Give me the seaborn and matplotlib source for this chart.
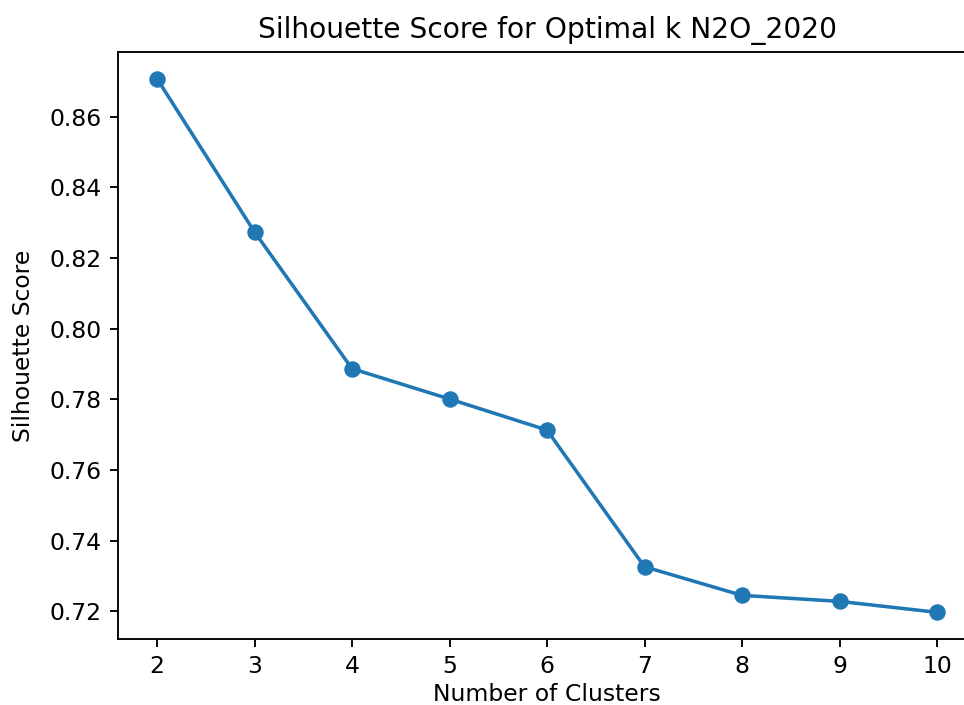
import pandas as pd
import matplotlib.pyplot as plt
import seaborn as sns

# Silhouette scores
k_values = [2, 3, 4, 5, 6, 7, 8, 9, 10]
scores = [0.8708, 0.8274, 0.7887, 0.7801, 0.7713, 0.7326, 0.7245, 0.7228, 0.7197]

df = pd.DataFrame({'k': k_values, 'score': scores})

sns.set_style("ticks", {'text.color': 'black', 'axes.labelcolor': 'black',
                        'xtick.color': 'black', 'ytick.color': 'black'})
plt.rcParams['font.family'] = ['DejaVu Sans']

sc = 1.69  # the reference is a scaled-up matplotlib default figure

fig = plt.figure(figsize=(9.64, 7.05), dpi=100)
ax = fig.add_axes([118 / 964, 66 / 705, 858 / 964, 587 / 705])

sns.lineplot(data=df, x='k', y='score', marker='o', color='#1f77b4',
             linewidth=1.5 * sc, markersize=6 * sc, markeredgecolor='#1f77b4',
             markeredgewidth=1 * sc, ax=ax)

ax.set_title('Silhouette Score for Optimal k N2O_2020', fontsize=12 * sc,
             pad=6 * sc, color='black')
ax.set_xlabel('Number of Clusters', fontsize=10 * sc, labelpad=3)
ax.set_ylabel('Silhouette Score', fontsize=10 * sc, labelpad=10)
ax.set_xticks(k_values)
ax.tick_params(labelsize=10 * sc, length=3.5 * sc, width=0.8 * sc, pad=3.5 * sc)
for s in ax.spines.values():
    s.set_linewidth(0.8 * sc)
    s.set_color('black')
# the right edge of the axes lies just outside the image
ax.spines['right'].set_visible(False)
ax.margins(x=0.05, y=0.05)

fig.savefig('out.png', dpi=100)
